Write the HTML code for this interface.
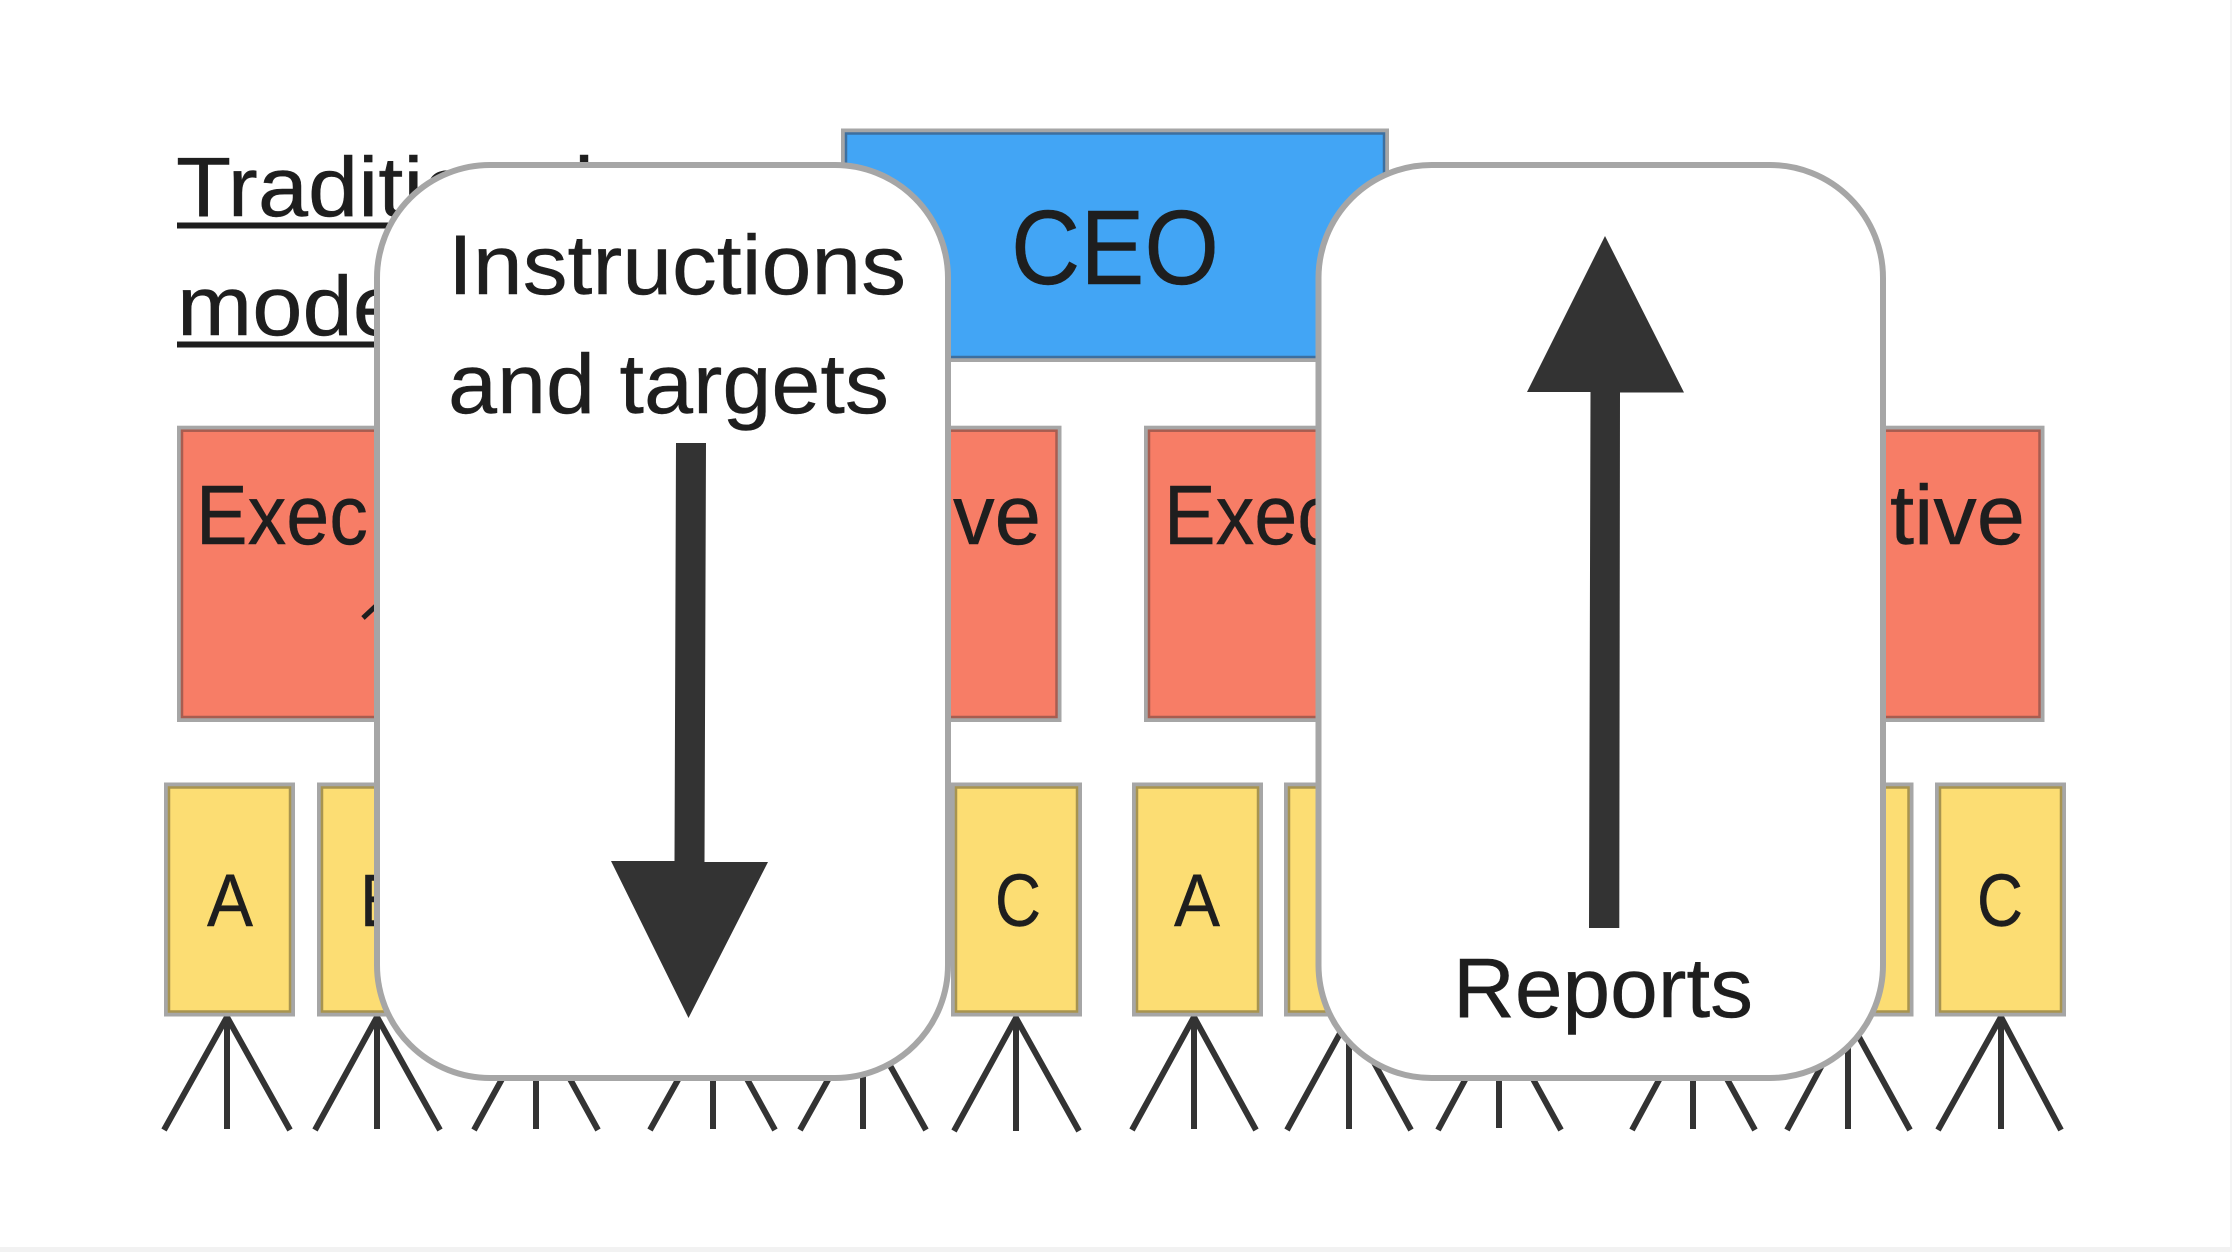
<!DOCTYPE html>
<html><head><meta charset="utf-8"><style>
html,body{margin:0;padding:0;background:#fff;width:2232px;height:1252px;overflow:hidden}
svg{display:block}
text{font-family:"Liberation Sans",sans-serif;fill:#1e1e1e;stroke:#1e1e1e;stroke-width:.4}
.f{stroke:#333;stroke-width:6;fill:none}
.p{fill:#fff;stroke:#a6a6a6;stroke-width:6}
.g{fill:none;stroke:#a6a6a6;stroke-width:4}
.bl{fill:#42a5f5;stroke:#3d6f9f;stroke-width:2.5}
.rd{fill:#f77d66;stroke:#a85d50;stroke-width:2.5}
.yl{fill:#fcdd73;stroke:#a8944f;stroke-width:2.5}
</style></head><body>
<svg width="2232" height="1252" viewBox="0 0 2232 1252" xmlns="http://www.w3.org/2000/svg">
<rect width="2232" height="1252" fill="#fff"/>
<rect x="0" y="1247" width="2232" height="5" fill="#f2f2f2"/>
<rect x="2230" y="0" width="2" height="1252" fill="#f4f4f4"/>

<text x="176" y="216" font-size="84" textLength="418" lengthAdjust="spacingAndGlyphs">Traditional</text>
<rect x="177" y="222.5" width="420" height="6" fill="#1e1e1e"/>
<text x="177" y="335" font-size="84" textLength="246" lengthAdjust="spacingAndGlyphs">model</text>
<rect x="177" y="341.5" width="260" height="6" fill="#1e1e1e"/>

<rect class="g" x="843" y="130.5" width="544" height="229.5"/>
<rect class="bl" x="846" y="133.5" width="538" height="223.5"/>
<text x="1011" y="284" font-size="106" textLength="208" lengthAdjust="spacingAndGlyphs">CEO</text>

<rect class="g" x="179" y="427.7" width="880.5" height="292.3"/>
<rect class="rd" x="182" y="430.7" width="874.5" height="286.3"/>
<rect class="g" x="1146" y="427.7" width="896.5" height="292.3"/>
<rect class="rd" x="1149" y="430.7" width="890.5" height="286.3"/>
<text x="196" y="544" font-size="84" textLength="172" lengthAdjust="spacingAndGlyphs">Exec</text>
<text x="953" y="544" font-size="84" textLength="88" lengthAdjust="spacingAndGlyphs">ve</text>
<text x="1164" y="544" font-size="84" textLength="172" lengthAdjust="spacingAndGlyphs">Exec</text>
<text x="1890" y="544" font-size="84" textLength="135" lengthAdjust="spacingAndGlyphs">tive</text>
<path d="M363 618L378 604" stroke="#1e1e1e" stroke-width="5" fill="none"/>

<g class="f">
<path d="M164 1130L227 1017L290 1130M227 1017V1129"/>
<path d="M315 1130L377 1017L440 1130M377 1017V1129"/>
<path d="M474 1130L536 1017L598 1130M536 1017V1129"/>
<path d="M650 1130L713 1017L775 1130M713 1017V1129"/>
<path d="M800 1130L863 1017L926 1130M863 1017V1129"/>
<path d="M954 1131L1016 1018L1079 1131M1016 1018V1131"/>
<path d="M1132 1130L1194 1017L1256 1130M1194 1017V1129"/>
<path d="M1287 1130L1349 1017L1411 1130M1349 1017V1129"/>
<path d="M1438 1130L1499 1017L1561 1130M1499 1017V1128"/>
<path d="M1632 1130L1693 1017L1755 1130M1693 1017V1129"/>
<path d="M1787 1130L1848 1017L1910 1130M1848 1017V1129"/>
<path d="M1938 1130L2001 1017L2061 1130M2001 1017V1129"/>
</g>

<g>
<rect class="g" x="166" y="784.5" width="127" height="230"/><rect class="yl" x="169" y="787.5" width="121" height="224"/>
<rect class="g" x="319" y="784.5" width="127" height="230"/><rect class="yl" x="322" y="787.5" width="121" height="224"/>
<rect class="g" x="953" y="784.5" width="127" height="230"/><rect class="yl" x="956" y="787.5" width="121" height="224"/>
<rect class="g" x="1134" y="784.5" width="127" height="230"/><rect class="yl" x="1137" y="787.5" width="121" height="224"/>
<rect class="g" x="1286" y="784.5" width="127" height="230"/><rect class="yl" x="1289" y="787.5" width="121" height="224"/>
<rect class="g" x="1784.5" y="784.5" width="127" height="230"/><rect class="yl" x="1787.5" y="787.5" width="121" height="224"/>
<rect class="g" x="1937" y="784.5" width="127" height="230"/><rect class="yl" x="1940" y="787.5" width="121" height="224"/>
</g>
<text x="207" y="926" font-size="74" textLength="46" lengthAdjust="spacingAndGlyphs">A</text>
<text x="360" y="926" font-size="74" textLength="44" lengthAdjust="spacingAndGlyphs">B</text>
<text x="995" y="926" font-size="74" textLength="46" lengthAdjust="spacingAndGlyphs">C</text>
<text x="1174" y="926" font-size="74" textLength="46" lengthAdjust="spacingAndGlyphs">A</text>
<text x="1977" y="926" font-size="74" textLength="46" lengthAdjust="spacingAndGlyphs">C</text>

<rect class="p" x="377" y="165" width="571" height="913" rx="113" ry="113"/>
<rect class="p" x="1318.5" y="165" width="564.5" height="913" rx="113" ry="113"/>

<text x="448" y="294" font-size="84" textLength="458" lengthAdjust="spacingAndGlyphs">Instructions</text>
<text x="448" y="413" font-size="84" textLength="441" lengthAdjust="spacingAndGlyphs">and targets</text>
<text x="1453" y="1017" font-size="84" textLength="300" lengthAdjust="spacingAndGlyphs">Reports</text>

<polygon points="676,443 706,443 704.5,862 768,862 688.5,1018 611,861 674.5,861" fill="#333"/>
<polygon points="1605,236 1684,392.5 1620,392.5 1619.3,928 1589,928 1590.5,392 1527,392" fill="#333"/>
</svg>
</body></html>
